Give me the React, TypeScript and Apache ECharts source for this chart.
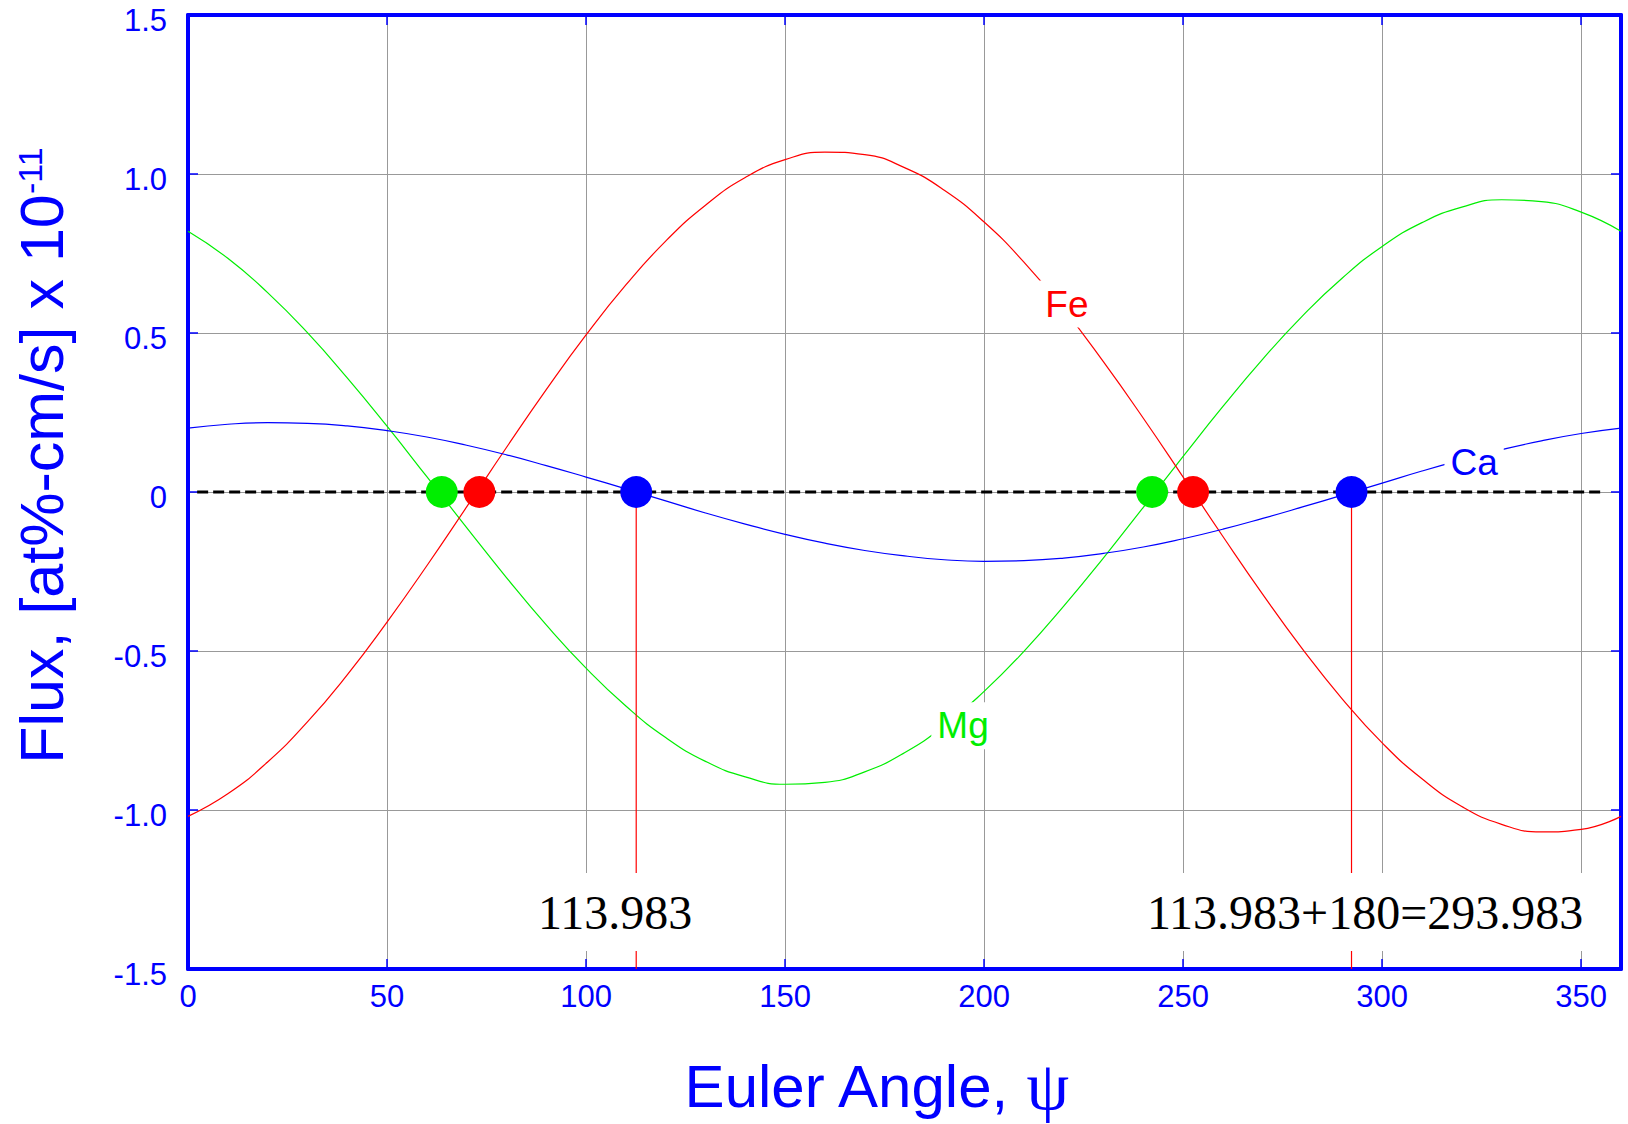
import React, { useEffect, useRef } from "react";
import * as echarts from "echarts";

// Euler angle psi (degrees) at which the curves were read
const psi = [0, 10, 20, 30, 40, 50, 60, 70, 80, 90, 100, 110, 120, 130, 140, 150, 160, 170, 180,
  190, 200, 210, 220, 230, 240, 250, 260, 270, 280, 290, 300, 310, 320, 330, 340, 350, 360];

// Flux values (x 1e-11 at%-cm/s)
const fe = [-1.020, -0.949, -0.849, -0.723, -0.575, -0.409, -0.232, -0.047, 0.140, 0.322, 0.494,
  0.651, 0.789, 0.902, 0.989, 1.045, 1.069, 1.061, 1.020, 0.949, 0.849, 0.723, 0.575, 0.409, 0.232,
  0.047, -0.140, -0.322, -0.494, -0.651, -0.789, -0.902, -0.989, -1.045, -1.069, -1.061, -1.020];
const mg = [0.820, 0.735, 0.627, 0.501, 0.359, 0.207, 0.048, -0.112, -0.269, -0.418, -0.554,
  -0.673, -0.772, -0.847, -0.896, -0.919, -0.913, -0.880, -0.820, -0.735, -0.627, -0.501, -0.359,
  -0.207, -0.048, 0.112, 0.269, 0.418, 0.554, 0.673, 0.772, 0.847, 0.896, 0.919, 0.913, 0.880, 0.820];
const ca = [0.201, 0.213, 0.218, 0.216, 0.208, 0.193, 0.173, 0.147, 0.117, 0.083, 0.047, 0.010,
  -0.028, -0.066, -0.101, -0.133, -0.161, -0.184, -0.201, -0.213, -0.218, -0.216, -0.208, -0.193,
  -0.173, -0.147, -0.117, -0.083, -0.047, -0.010, 0.028, 0.066, 0.101, 0.133, 0.161, 0.184, 0.201];

// zero crossings (dots)
const mgRoots = [63.75, 242.2];
const feRoots = [73.2, 252.5];
const caRoots = [112.6, 292.3];

// zero reference line extent
const zeroLine = [2.3, 355.5];

// annotation texts
const rootLabels = ["113.983", "113.983+180=293.983"];
const rootLabelAt = [[107.3, -1.321], [295.7, -1.321]];
const curveLabels = ["Fe", "Mg", "Ca"];
const curveLabelAt = [[220.8, 0.591], [194.7, -0.735], [323.1, 0.094]];

const BLUE = "#0000ff";
const RED = "#ff0000";
const GREEN = "#00ee00";
const SANS = "Arial, 'Liberation Sans', sans-serif";
const SERIF = "'Times New Roman', 'Liberation Serif', serif";

export default function App() {
  const ref = useRef<HTMLDivElement>(null);

  useEffect(() => {
    if (!ref.current) return;
    const chart = echarts.init(ref.current, undefined, { renderer: "svg" });

    const curve = (name: string, vals: number[], color: string) => ({
      type: "line",
      name,
      data: psi.map((p, i) => [p, vals[i]]),
      showSymbol: false,
      smooth: true,
      z: 2,
      lineStyle: { color, width: 1.2 },
      itemStyle: { color },
    });

    const dots = (name: string, roots: number[], color: string) => ({
      type: "scatter",
      name,
      data: roots.map((r) => [r, 0]),
      symbol: "circle",
      symbolSize: 32,
      z: 6,
      itemStyle: { color, opacity: 1 },
    });

    const labelColors = [RED, GREEN, BLUE];

    const annotations = [
      ...rootLabels.map((t, i) => ({
        value: rootLabelAt[i],
        label: {
          show: true,
          formatter: t,
          position: "inside",
          color: "#000000",
          opacity: 1,
          fontFamily: SERIF,
          fontSize: 48,
          lineHeight: 48,
          backgroundColor: "#ffffff",
          padding: [15, 8, 15, 8],
        },
      })),
      ...curveLabels.map((t, i) => ({
        value: curveLabelAt[i],
        label: {
          show: true,
          formatter: t,
          position: "inside",
          color: labelColors[i],
          opacity: 1,
          fontFamily: SANS,
          fontSize: 37,
          lineHeight: 37,
          backgroundColor: "#ffffff",
          padding: [5, 6, 5, 6],
        },
      })),
    ];

    const axisLineStyle = { show: true, onZero: false, lineStyle: { color: BLUE, width: 4 } };
    const tickStyle = { show: true, inside: true, length: 10, lineStyle: { color: BLUE, width: 1.5 } };
    const gridLine = { show: true, showMinLine: false, showMaxLine: false, lineStyle: { color: "#999999", width: 1 } };

    chart.setOption({
      animation: false,
      backgroundColor: "#ffffff",
      grid: { left: 188, right: 7, top: 15, bottom: 155, containLabel: false },
      xAxis: [
        {
          type: "value", min: 0, max: 360, interval: 50, position: "bottom",
          axisLine: axisLineStyle, axisTick: tickStyle, splitLine: gridLine,
          axisLabel: { color: BLUE, fontSize: 31, fontFamily: SANS, margin: 12, showMaxLabel: false },
        },
        {
          type: "value", min: 0, max: 360, interval: 50, position: "top",
          axisLine: axisLineStyle, axisTick: tickStyle, splitLine: { show: false },
          axisLabel: { show: false },
        },
      ],
      yAxis: [
        {
          type: "value", min: -1.5, max: 1.5, interval: 0.5, position: "left",
          axisLine: axisLineStyle, axisTick: tickStyle, splitLine: gridLine,
          axisLabel: {
            color: BLUE, fontSize: 31, fontFamily: SANS, margin: 21,
            verticalAlign: "top", lineHeight: 10,
            formatter: (v: number) => (Math.abs(v) < 1e-9 ? "0" : v.toFixed(1)),
          },
        },
        {
          type: "value", min: -1.5, max: 1.5, interval: 0.5, position: "right",
          axisLine: axisLineStyle, axisTick: tickStyle, splitLine: { show: false },
          axisLabel: { show: false },
        },
      ],
      series: [
        curve("Mg", mg, GREEN),
        curve("Fe", fe, RED),
        curve("Ca", ca, BLUE),
        ...caRoots.map((r) => ({
          type: "line",
          data: [[r, 0], [r, -1.5]],
          showSymbol: false,
          z: 2,
          lineStyle: { color: RED, width: 1.2 },
        })),
        {
          type: "line",
          data: zeroLine.map((x) => [x, 0]),
          showSymbol: false,
          z: 4,
          lineStyle: { color: "#000000", width: 3, type: [11, 5] },
        },
        dots("Mg zero", mgRoots, GREEN),
        dots("Fe zero", feRoots, RED),
        dots("Ca zero", caRoots, BLUE),
        {
          type: "scatter",
          data: annotations,
          symbolSize: 1,
          z: 10,
          itemStyle: { color: "rgba(0,0,0,0)" },
        },
      ],
      graphic: [
        {
          type: "text", x: 42, y: 479, rotation: Math.PI / 2, z: 100,
          style: {
            text: "Flux, [at%-cm/s] x 10", fill: BLUE, fontSize: 61, fontFamily: SANS,
            align: "center", verticalAlign: "middle",
          },
        },
        {
          type: "text", x: 30, y: 194, rotation: Math.PI / 2, z: 100,
          style: {
            text: "-11", fill: BLUE, fontSize: 34, fontFamily: SANS,
            align: "left", verticalAlign: "middle",
          },
        },
        {
          type: "text", x: 876, y: 1086, z: 100,
          style: {
            text: "{a|Euler Angle, }{b|ψ}",
            align: "center", verticalAlign: "middle",
            rich: {
              a: { fill: BLUE, fontSize: 60, fontFamily: SANS },
              b: { fill: BLUE, fontSize: 68, fontFamily: SERIF },
            },
          },
        },
      ],
    });

    return () => chart.dispose();
  }, []);

  return (
    <div
      ref={ref}
      style={{ position: "absolute", left: 0, top: 0, width: 1628, height: 1124, background: "#fff" }}
    />
  );
}
